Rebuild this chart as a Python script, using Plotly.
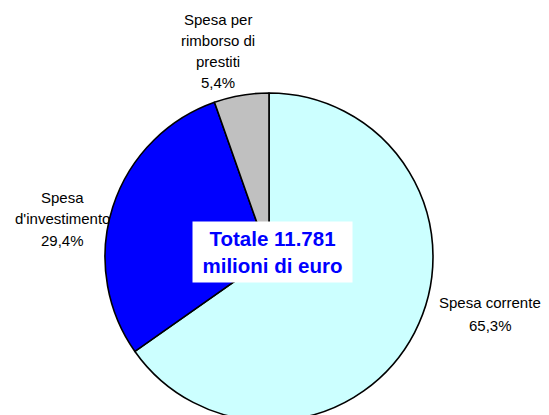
import plotly.graph_objects as go

# ---- data ----
categories = ["Spesa corrente", "Spesa d'investimento", "Spesa per rimborso di prestiti"]
values = [65.3, 29.4, 5.4]
pct_labels = ["65,3%", "29,4%", "5,4%"]
label_lines = [["Spesa corrente"], ["Spesa", "d'investimento"], ["Spesa per", "rimborso di", "prestiti"]]
colors = ["#CCFFFF", "#0000FF", "#C0C0C0"]
total_text = ["Totale 11.781", "milioni di euro"]

W, H = 549, 430

def px(x):
    return x / W

def py(y):
    return 1 - y / H

fig = go.Figure()
fig.add_trace(go.Pie(
    labels=categories,
    values=values,
    sort=False,
    direction="clockwise",
    rotation=0,
    marker=dict(colors=colors, line=dict(color="#000000", width=1.6)),
    textinfo="none",
    hoverinfo="label+percent",
    showlegend=False,
    domain=dict(x=[px(105), px(433)], y=[py(421), py(93)]),
))

# label annotations (one per line)
label_pos = [
    (490, [302.5, 325]),
    (62, [197.5, 218.5, 240]),
    (218, [19, 40.5, 61.5, 82]),
]
for i, (cx, ys) in enumerate(label_pos):
    lines = label_lines[i] + [pct_labels[i]]
    for line, yy in zip(lines, ys):
        fig.add_annotation(
            x=px(cx), y=py(yy), xref="paper", yref="paper",
            text=line, showarrow=False, xanchor="center", yanchor="middle",
            font=dict(family="Liberation Sans, Arial, sans-serif", size=15, color="#000000"),
        )

# center total box
fig.add_annotation(
    x=px(272.5), y=py(252), xref="paper", yref="paper",
    text="<b>" + total_text[0] + "</b><br><b>" + total_text[1] + "</b>",
    showarrow=False, xanchor="center", yanchor="middle",
    width=155, height=56, bgcolor="#FFFFFF", borderpad=2,
    font=dict(family="Liberation Sans, Arial, sans-serif", size=20.5, color="#0000FF"),
)

fig.update_layout(
    width=W, height=H,
    margin=dict(l=0, r=0, t=0, b=0),
    paper_bgcolor="#FFFFFF",
    plot_bgcolor="#FFFFFF",
)

fig.write_html("out.html", config={"displayModeBar": False},
               post_script="document.body.style.margin='0';document.body.style.overflow='hidden';document.documentElement.style.overflow='hidden';")
